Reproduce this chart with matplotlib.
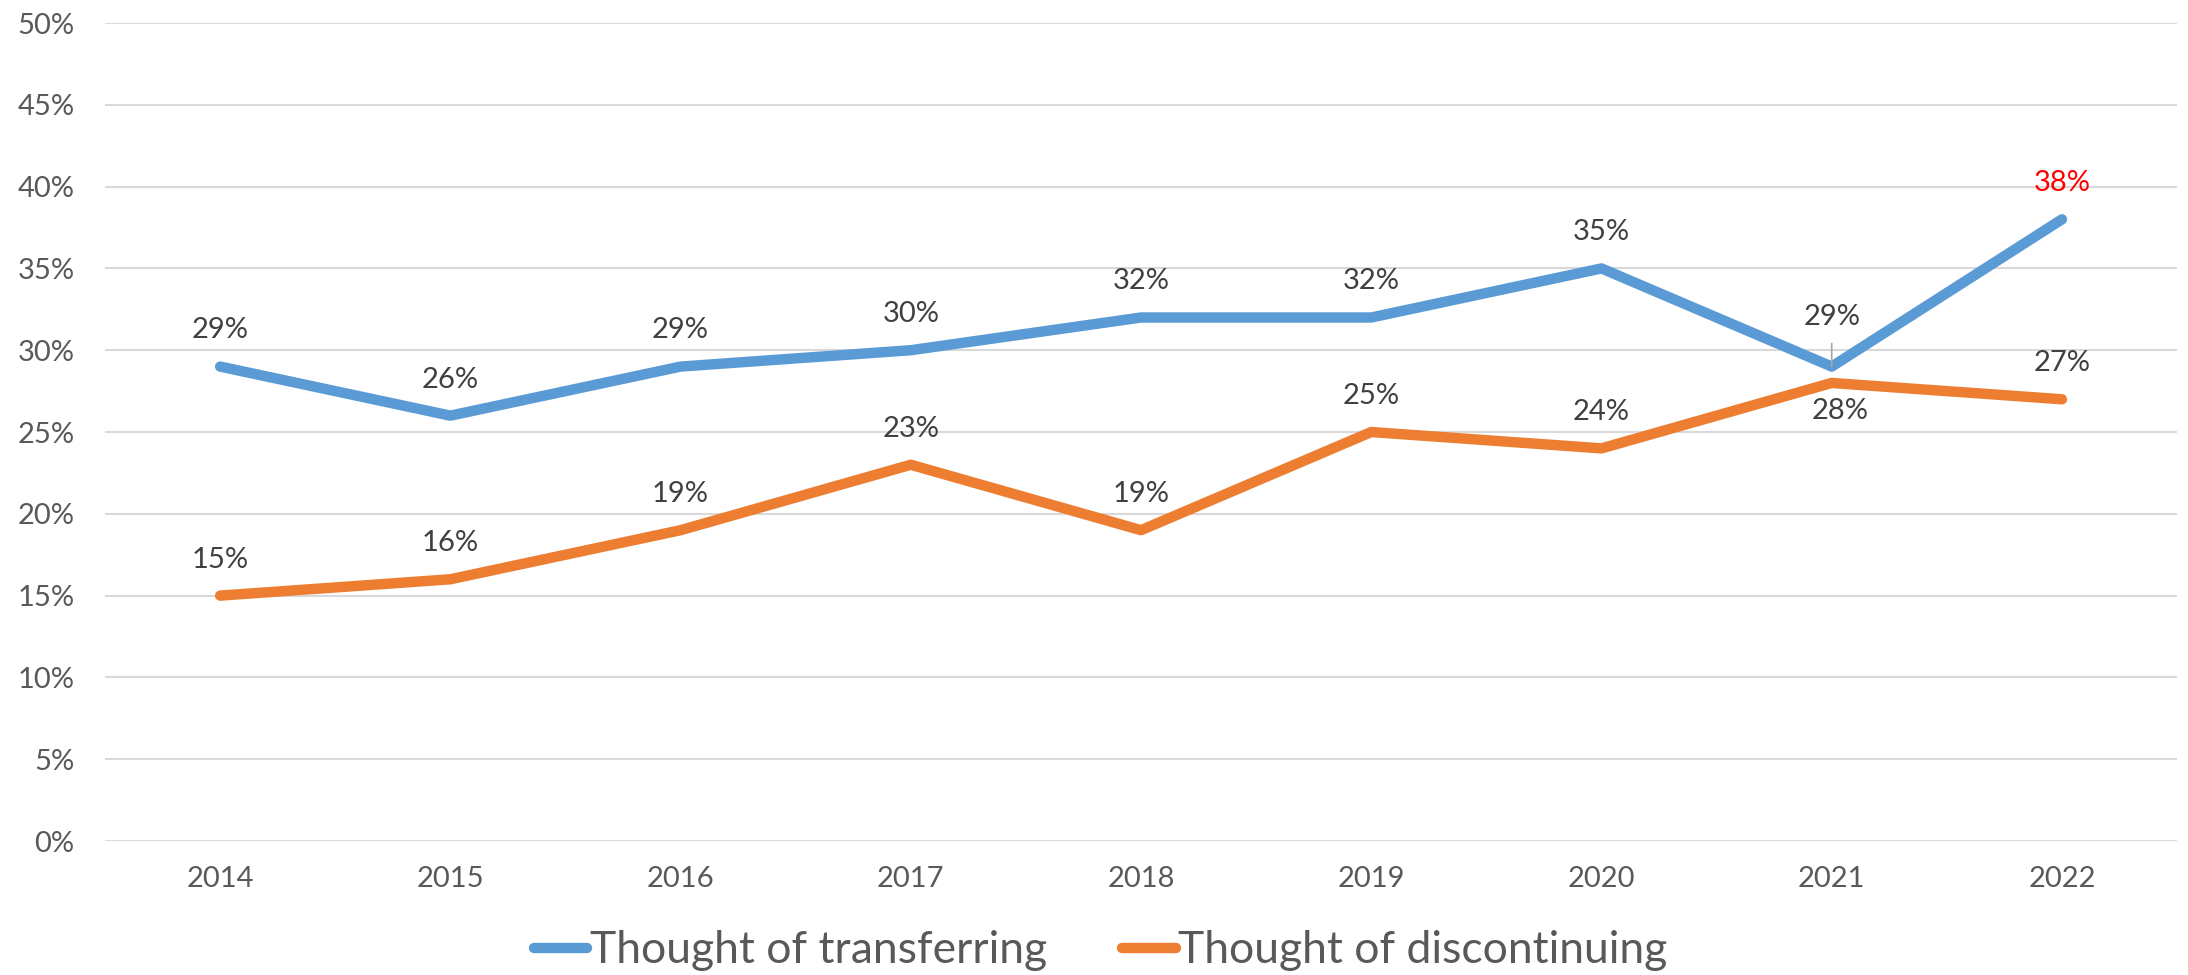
import matplotlib
matplotlib.use("Agg")
import matplotlib.pyplot as plt
from matplotlib.lines import Line2D

# data
years = ["2014", "2015", "2016", "2017", "2018", "2019", "2020", "2021", "2022"]
transferring = [29, 26, 29, 30, 32, 32, 35, 29, 38]
discontinuing = [15, 16, 19, 23, 19, 25, 24, 28, 27]
y_ticks = [0, 5, 10, 15, 20, 25, 30, 35, 40, 45, 50]

BLUE = "#5B9BD5"
ORANGE = "#ED7D31"
GRID = "#D9D9D9"
TICK = "#595959"
LABEL = "#404040"

plt.rcParams["font.family"] = ["Lato", "DejaVu Sans"]

fig = plt.figure(figsize=(21.88, 9.75), dpi=100)
ax = fig.add_axes([0.048, 0.1374, 0.947, 0.839])

x = list(range(len(years)))
ax.plot(x, transferring, color=BLUE, lw=7.5, solid_capstyle="round", solid_joinstyle="round", zorder=3)
ax.plot(x, discontinuing, color=ORANGE, lw=7.5, solid_capstyle="round", solid_joinstyle="round", zorder=3)

# data labels
for i, v in enumerate(transferring):
    if i == 7:
        # moved up with a leader line
        ax.annotate(f"{v}%", (i, v), xytext=(0, 36), textcoords="offset points",
                    ha="center", va="center", fontsize=21, color=LABEL,
                    arrowprops=dict(arrowstyle="-", color="#A6A6A6", lw=1.2,
                                    shrinkA=8, shrinkB=0), zorder=4)
        continue
    col = "#FF0000" if i == len(transferring) - 1 else LABEL
    ax.annotate(f"{v}%", (i, v), xytext=(0, 26), textcoords="offset points",
                ha="center", va="center", fontsize=21, color=col)

for i, v in enumerate(discontinuing):
    if i == 7:
        ax.annotate(f"{v}%", (i, v), xytext=(6, -20), textcoords="offset points",
                    ha="center", va="center", fontsize=21, color=LABEL)
        continue
    ax.annotate(f"{v}%", (i, v), xytext=(0, 26), textcoords="offset points",
                ha="center", va="center", fontsize=21, color=LABEL)

ax.set_xlim(-0.5, len(years) - 0.5)
ax.set_ylim(0, 50)
ax.set_xticks(x)
ax.set_xticklabels(years)
ax.set_yticks(y_ticks)
ax.set_yticklabels([f"{t}%" for t in y_ticks])
ax.tick_params(axis="both", length=0, labelsize=21, labelcolor=TICK)
ax.tick_params(axis="y", pad=22)
ax.tick_params(axis="x", pad=18)
ax.grid(axis="y", color=GRID, lw=1.5)
ax.set_axisbelow(True)
for s in ax.spines.values():
    s.set_visible(False)

handles = [
    Line2D([0], [0], color=BLUE, lw=7.5, solid_capstyle="round"),
    Line2D([0], [0], color=ORANGE, lw=7.5, solid_capstyle="round"),
]
fig.legend(handles, ["Thought of transferring", "Thought of discontinuing"],
           loc="center", bbox_to_anchor=(0.503, 0.025), ncol=2, frameon=False,
           fontsize=32, labelcolor=TICK, handlelength=1.2, handletextpad=0.05,
           columnspacing=1.7)

fig.savefig("out.png", dpi=100)
